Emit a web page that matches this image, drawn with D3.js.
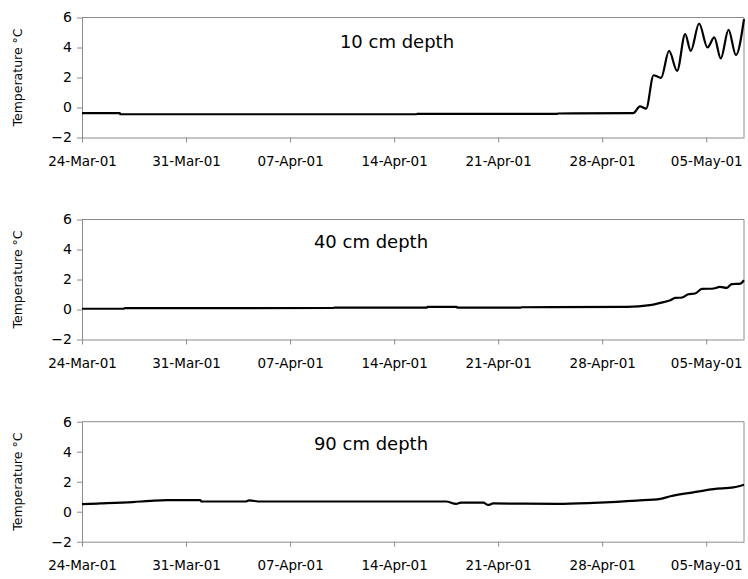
<!DOCTYPE html>
<html>
<head>
<meta charset="utf-8">
<script src="https://cdn.jsdelivr.net/npm/d3@7"></script>
<style>
  html, body { margin: 0; padding: 0; background: #fff; }
  svg { display: block; }
  text { font-family: "DejaVu Sans", "Open Sans", sans-serif; fill: #000; }
</style>
</head>
<body>
<div id="chart"></div>
<script>
// ---------- data ----------
const panelTitles = ["10 cm depth", "40 cm depth", "90 cm depth"];
const yTickValues = [-2, 0, 2, 4, 6];
const xTickLabels = ["2001-03-24", "2001-03-31", "2001-04-07", "2001-04-14", "2001-04-21", "2001-04-28", "2001-05-05"];
const xDomain = ["2001-03-24 00:00", "2001-05-07 13:00"];

const depth10Times = [
  "2001-03-24 00:00", "2001-03-26 13:00", "2001-03-26 14:00", "2001-04-15 12:00", "2001-04-15 13:00",
  "2001-04-24 23:00", "2001-04-25 00:00", "2001-04-30 02:00", "2001-04-30 13:00", "2001-04-30 23:00",
  "2001-05-01 11:00", "2001-05-01 17:00", "2001-05-01 23:00", "2001-05-02 12:00", "2001-05-03 01:00",
  "2001-05-03 14:00", "2001-05-03 23:00", "2001-05-04 12:30", "2001-05-05 02:00", "2001-05-05 13:00",
  "2001-05-05 23:30", "2001-05-06 12:00", "2001-05-07 00:00", "2001-05-07 13:00"
];
const depth10Values = [
  -0.38, -0.38, -0.45, -0.45, -0.43,
  -0.43, -0.40, -0.38, 0.07, -0.07,
  2.15, 2.07, 1.97, 3.77, 2.44,
  4.89, 3.77, 5.60, 4.00, 4.67,
  3.27, 5.17, 3.49, 5.89
];

const depth40Times = [
  "2001-03-24 00:00", "2001-03-26 20:00", "2001-03-26 21:00", "2001-04-09 22:00", "2001-04-10 00:00",
  "2001-04-16 05:00", "2001-04-16 06:00", "2001-04-18 05:00", "2001-04-18 06:00", "2001-04-22 12:00",
  "2001-04-22 13:00", "2001-04-29 16:00", "2001-05-01 05:00", "2001-05-01 22:00", "2001-05-02 14:00",
  "2001-05-02 22:00", "2001-05-03 09:00", "2001-05-03 19:00", "2001-05-04 06:00", "2001-05-04 17:00",
  "2001-05-05 12:00", "2001-05-05 22:00", "2001-05-06 09:00", "2001-05-06 17:00", "2001-05-07 07:00",
  "2001-05-07 13:00"
];
const depth40Values = [
  0.05, 0.05, 0.09, 0.10, 0.13,
  0.13, 0.18, 0.18, 0.12, 0.12,
  0.15, 0.17, 0.29, 0.44, 0.62,
  0.77, 0.80, 1.02, 1.07, 1.37,
  1.40, 1.51, 1.44, 1.69, 1.73,
  1.95
];

const depth90Times = [
  "2001-03-24 00:00", "2001-03-25 05:00", "2001-03-27 10:00", "2001-03-28 14:00", "2001-03-29 17:00",
  "2001-03-31 23:00", "2001-04-01 01:00", "2001-04-04 00:00", "2001-04-04 06:00", "2001-04-05 00:00",
  "2001-04-17 12:00", "2001-04-18 04:00", "2001-04-18 12:00", "2001-04-20 00:00", "2001-04-20 08:00",
  "2001-04-20 16:00", "2001-04-25 00:00", "2001-04-27 10:00", "2001-04-30 08:00", "2001-05-01 22:00",
  "2001-05-02 14:00", "2001-05-04 03:00", "2001-05-05 12:00", "2001-05-06 20:00", "2001-05-07 13:00"
];
const depth90Values = [
  0.51, 0.55, 0.64, 0.72, 0.77,
  0.77, 0.68, 0.68, 0.75, 0.68,
  0.68, 0.52, 0.60, 0.60, 0.45,
  0.55, 0.52, 0.59, 0.74, 0.86,
  1.03, 1.29, 1.51, 1.62, 1.80
];

const seriesTimes = [depth10Times, depth40Times, depth90Times];
const seriesValues = [depth10Values, depth40Values, depth90Values];

// ---------- layout ----------
const W = 748, H = 579;
const left = 82, right = 744;
const panelTops = [17.5, 219.5, 421.7];
const panelH = 120;
const titlePos = [[397, 48], [371, 248], [371, 450]];

const parseDT = d3.timeParse("%Y-%m-%d %H:%M");
const parseD = d3.timeParse("%Y-%m-%d");
const fmt = d3.timeFormat("%d-%b-%y");

const svg = d3.select("#chart").append("svg")
  .attr("width", W).attr("height", H);

const x = d3.scaleTime()
  .domain(xDomain.map(parseDT))
  .range([left, right]);

panelTitles.forEach((title, i) => {
  const top = panelTops[i];
  const y = d3.scaleLinear().domain([-2, 6]).range([top + panelH, top]);
  const g = svg.append("g");

  // plot border (top & right)
  g.append("path")
    .attr("d", `M${left},${top}H${right}V${top + panelH}`)
    .attr("fill", "none").attr("stroke", "#8c8c8c").attr("stroke-width", 1);

  // y axis
  const ya = g.append("g").attr("transform", `translate(${left},0)`)
    .call(d3.axisLeft(y).tickValues(yTickValues).tickSize(5).tickSizeOuter(0).tickFormat(d3.format("d")));
  ya.select(".domain").attr("stroke", "#8c8c8c");
  ya.selectAll(".tick line").attr("stroke", "#8c8c8c");
  ya.selectAll(".tick text").attr("x", -10).style("font-size", "14px")
    .style("font-family", "\"DejaVu Sans\", sans-serif");

  // x axis
  const xa = g.append("g").attr("transform", `translate(0,${top + panelH})`)
    .call(d3.axisBottom(x).tickValues(xTickLabels.map(parseD)).tickSize(5).tickSizeOuter(0).tickFormat(fmt));
  xa.select(".domain").attr("stroke", "#8c8c8c");
  xa.selectAll(".tick line").attr("stroke", "#8c8c8c");
  xa.selectAll(".tick text").attr("y", 19).style("font-size", "13.5px")
    .style("font-family", "\"DejaVu Sans\", sans-serif");

  // y axis title
  g.append("text")
    .attr("transform", `translate(22,${top + panelH / 2}) rotate(-90)`)
    .attr("text-anchor", "middle")
    .style("font-size", "12.5px")
    .text("Temperature °C");

  // panel title
  g.append("text")
    .attr("x", titlePos[i][0]).attr("y", titlePos[i][1])
    .attr("text-anchor", "middle")
    .style("font-size", "18px")
    .text(title);

  // series line
  const data = seriesTimes[i].map((t, k) => ({ t: parseDT(t), v: seriesValues[i][k] }));
  const line = d3.line().x(d => x(d.t)).y(d => y(d.v)).curve(d3.curveMonotoneX);
  g.append("path")
    .datum(data)
    .attr("d", line)
    .attr("fill", "none")
    .attr("stroke", "#000")
    .attr("stroke-width", 2.2)
    .attr("stroke-linejoin", "round");
});
</script>
</body>
</html>
